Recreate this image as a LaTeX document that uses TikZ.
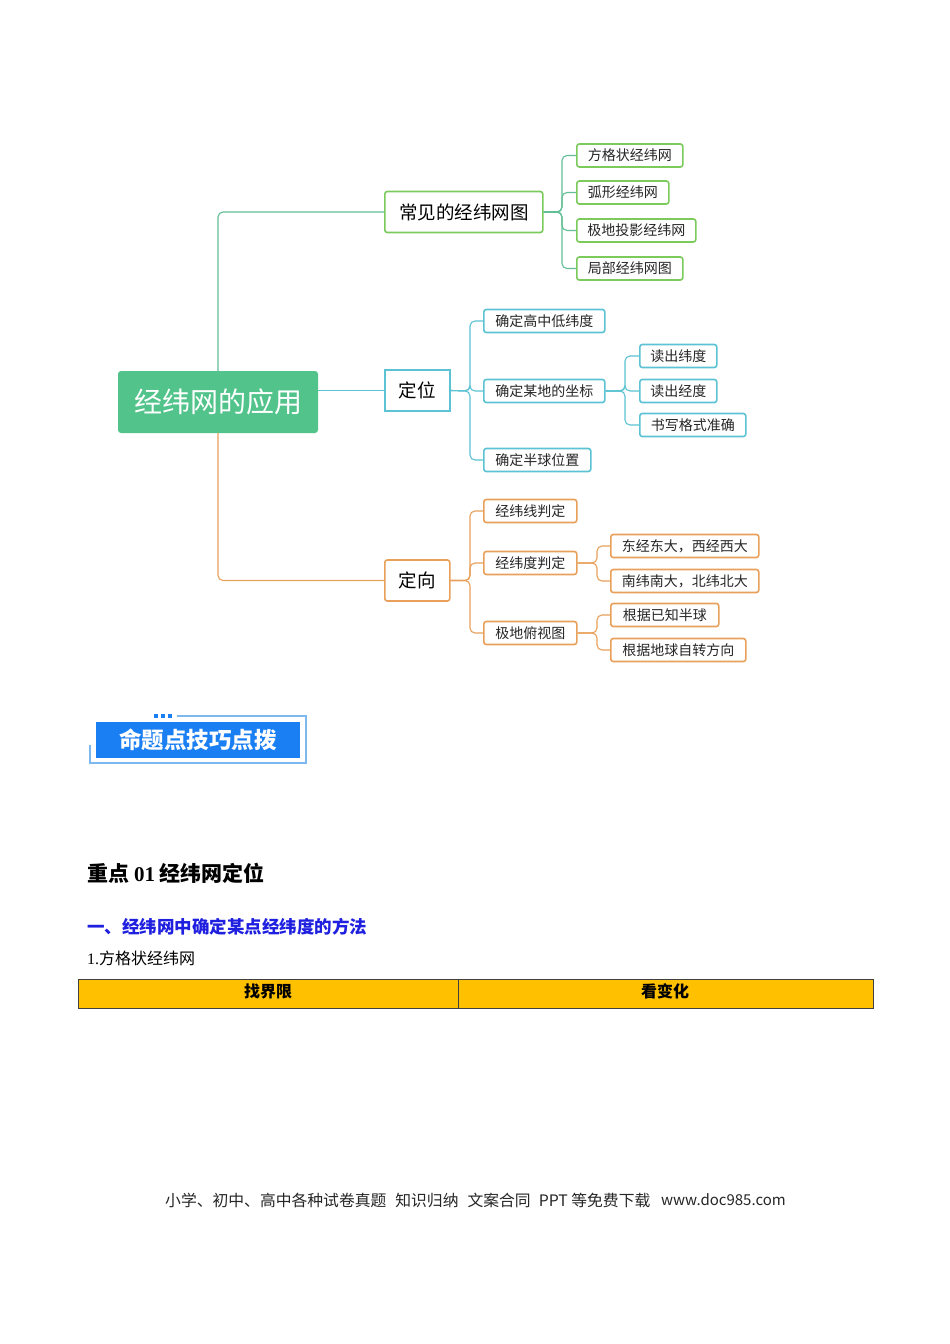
\documentclass[tikz,border=0pt]{standalone}
\usepackage{fontspec}
\setmainfont{Noto Sans CJK SC}
\newfontfamily\cjk{Noto Sans CJK SC}
\newfontfamily\latinserif{Liberation Serif}
\usetikzlibrary{positioning}
\definecolor{rootgreen}{HTML}{52C48B}
\definecolor{lgreen}{HTML}{7ACB5C}
\definecolor{cgreen}{HTML}{62BE94}
\definecolor{tblue}{HTML}{5BC3D3}
\definecolor{corange}{HTML}{E8A05A}
\definecolor{bannerblue}{HTML}{1A7FF2}
\definecolor{bannerline}{HTML}{7DB8F0}
\definecolor{headblue}{HTML}{1F1FE0}
\definecolor{tabgold}{HTML}{FFC000}
\tikzset{
  mainbox/.style={draw=#1, line width=1.6pt, rounded corners=2.5pt, fill=white, anchor=west, inner sep=0pt, minimum height=41pt, font=\fontsize{18.5}{18.5}\selectfont, text=black},
  subbox/.style={draw=#1, line width=1.6pt, rounded corners=2.5pt, fill=white, anchor=west, inner sep=0pt, minimum height=23pt, font=\fontsize{14}{14}\selectfont, text=black!85},
  conn/.style={draw=#1, line width=1.1pt, rounded corners=5pt},
}
\begin{document}
\begin{tikzpicture}[x=1pt,y=-1pt]
\useasboundingbox (0,0) rectangle (950,1344);
\fill[white] (0,0) rectangle (950,1344);

% root
\node[fill=rootgreen, rounded corners=3pt, minimum width=200pt, minimum height=62pt, inner sep=0pt, text=white, font=\fontsize{28}{28}\selectfont] (root) at (218,402) {经纬网的应用};

% level 1
\node[mainbox=lgreen, minimum width=158pt] (cj) at (384,212) {常见的经纬网图};
\node[mainbox=tblue, minimum width=65pt, sharp corners] (dw) at (384,390.5) {定位};
\node[mainbox=corange, minimum width=65pt] (dx) at (384,580.5) {定向};

% green children
\node[subbox=lgreen, minimum width=106pt] (g1) at (576,155.5) {方格状经纬网};
\node[subbox=lgreen, minimum width=92pt] (g2) at (576,192.5) {弧形经纬网};
\node[subbox=lgreen, minimum width=119pt] (g3) at (576,230.5) {极地投影经纬网};
\node[subbox=lgreen, minimum width=106pt] (g4) at (576,268.5) {局部经纬网图};

% blue children
\node[subbox=tblue, minimum width=121pt] (b1) at (483,321) {确定高中低纬度};
\node[subbox=tblue, minimum width=121pt] (b2) at (483,391) {确定某地的坐标};
\node[subbox=tblue, minimum width=107pt] (b3) at (483,460) {确定半球位置};
\node[subbox=tblue, minimum width=77pt] (b21) at (639,356) {读出纬度};
\node[subbox=tblue, minimum width=77pt] (b22) at (639,391) {读出经度};
\node[subbox=tblue, minimum width=106pt] (b23) at (639,425) {书写格式准确};

% orange children
\node[subbox=corange, minimum width=93pt] (o1) at (483,511) {经纬线判定};
\node[subbox=corange, minimum width=93pt] (o2) at (483,563) {经纬度判定};
\node[subbox=corange, minimum width=93pt] (o3) at (483,633) {极地俯视图};
\node[subbox=corange, minimum width=148pt] (o21) at (610,546) {东经东大，西经西大};
\node[subbox=corange, minimum width=148pt] (o22) at (610,581) {南纬南大，北纬北大};
\node[subbox=corange, minimum width=108pt] (o31) at (610,615) {根据已知半球};
\node[subbox=corange, minimum width=135pt] (o32) at (610,650) {根据地球自转方向};

% branch coordinates
\coordinate (kr1) at (218,212);
\coordinate (kr3) at (218,580.5);
\coordinate (kg) at (562,212);
\coordinate (kb) at (470,391);
\coordinate (kb2) at (625,391);
\coordinate (ko) at (470,580.5);
\coordinate (ko2) at (597,563);
\coordinate (ko3) at (597,633);

% root connectors
\draw[conn=cgreen] (root.north) -- (kr1) -- (cj.west);
\draw[conn=tblue] (dw.west -| root.east) -- (dw.west);
\draw[conn=corange] (root.south) -- (kr3) -- (dx.west);

% green
\foreach \c in {g1,g2,g3,g4} \draw[conn=cgreen] (cj.east) -- (kg) |- (\c.west);
% blue
\foreach \c in {b1,b2,b3} \draw[conn=tblue] (dw.east) -- (kb) |- (\c.west);
\foreach \c in {b21,b22,b23} \draw[conn=tblue] (b2.east) -- (kb2) |- (\c.west);
% orange
\foreach \c in {o1,o2,o3} \draw[conn=corange] (dx.east) -- (ko) |- (\c.west);
\foreach \c in {o21,o22} \draw[conn=corange] (o2.east) -- (ko2) |- (\c.west);
\foreach \c in {o31,o32} \draw[conn=corange] (o3.east) -- (ko3) |- (\c.west);

% banner
\draw[bannerline, line width=1.2pt] (177,716) -- (306,716) -- (306,763) -- (90,763) -- (90,745);
\fill[bannerblue] (96,722) rectangle (300,758);
\foreach \xx in {156,163,170} \fill[bannerblue] (\xx-1.6,714.4) rectangle (\xx+1.6,717.6);
\node[text=white, font=\fontsize{22.5}{22.5}\selectfont\bfseries, inner sep=0pt] (ban) at (198,740) {命题点技巧点拨};

% headings
\node[anchor=west, inner sep=0pt, font=\fontsize{21}{21}\selectfont\bfseries] (h1) at (87,873) {重点 {\latinserif 01} 经纬网定位};
\node[anchor=west, inner sep=0pt, text=headblue, font=\fontsize{17.5}{17.5}\selectfont\bfseries] (h2) at (87,927) {一、经纬网中确定某点经纬度的方法};
\node[anchor=west, inner sep=0pt, font=\fontsize{16}{16}\selectfont] (h3) at (87,958) {{\latinserif 1.}方格状经纬网};

% table
\draw[fill=tabgold, draw=black!75, line width=0.8pt] (78,979) rectangle (873,1008);
\draw[black!75, line width=0.8pt] (458,979) -- (458,1008);
\node[inner sep=0pt, font=\fontsize{16}{16}\selectfont\bfseries] (t1) at (268,991) {找界限};
\node[inner sep=0pt, font=\fontsize{16}{16}\selectfont\bfseries] (t2) at (665,991) {看变化};

% footer
\node[anchor=west, inner sep=0pt, text=black!85, font=\fontsize{15.8}{15.8}\selectfont] (ft) at (165,1200) {小学、初中、高中各种试卷真题\hspace{9pt}知识归纳\hspace{9pt}文案合同\hspace{8pt}PPT 等免费下载};
\node[anchor=east, inner sep=0pt, text=black!85, font=\fontsize{15}{15}\selectfont] (url) at (786,1200) {www.doc985.com};
\end{tikzpicture}
\end{document}
